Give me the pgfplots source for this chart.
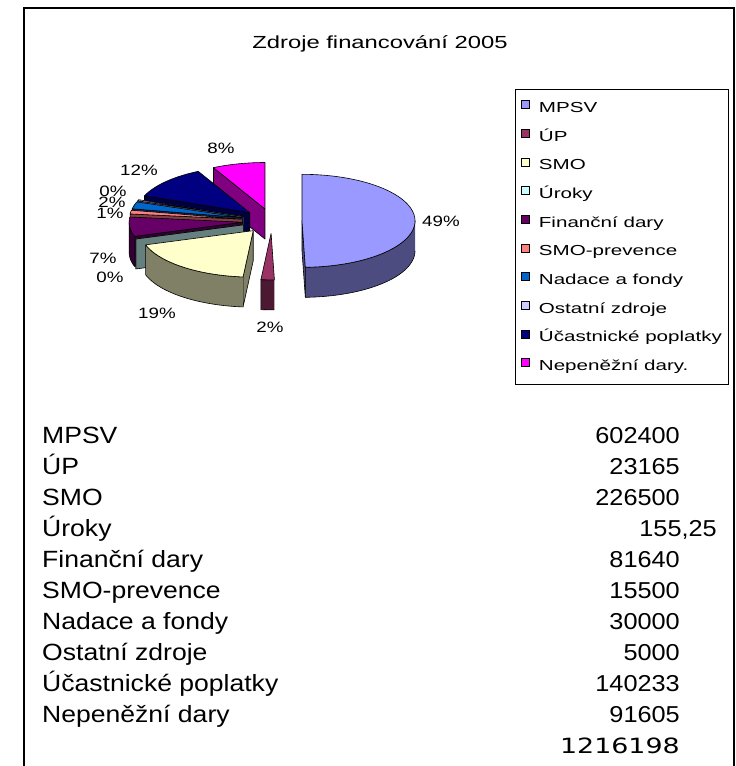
\documentclass[border=0pt]{standalone}
\usepackage{fontspec}
\setmainfont{Liberation Sans}
\newfontfamily\dejavu{DejaVu Sans}
\usepackage{graphicx}
\usepackage{pgfplots}
\usepackage{pgfplotstable}
\pgfplotsset{compat=1.18}

\definecolor{cMPSV}{HTML}{9999FF}
\definecolor{cUP}{HTML}{993366}
\definecolor{cSMO}{HTML}{FFFFCC}
\definecolor{cUroky}{HTML}{CCFFFF}
\definecolor{cFD}{HTML}{660066}
\definecolor{cSMOp}{HTML}{FF8080}
\definecolor{cNaF}{HTML}{0066CC}
\definecolor{cOZ}{HTML}{CCCCFF}
\definecolor{cUcP}{HTML}{000080}
\definecolor{cND}{HTML}{FF00FF}

\pgfplotstableread[col sep=comma]{
name,value
MPSV,602400
ÚP,23165
SMO,226500
Úroky,155.25
Finanční dary,81640
SMO-prevence,15500
Nadace a fondy,30000
Ostatní zdroje,5000
Účastnické poplatky,140233
Nepeněžní dary,91605
}\srcdata

% geometry of the 3D pie (picture pixels, y downward)
\def\CX{272}\def\CY{221}\def\RX{113}\def\RY{46.5}\def\DEP{30}\def\EXPL{30}

\xdef\total{0}%
\foreach \ii in {0,...,9}{%
  \pgfplotstablegetelem{\ii}{value}\of\srcdata
  \xdef\total{\fpeval{\total+\pgfplotsretval}}%
}%
\xdef\cum{0}%
\foreach \ii in {0,...,9}{%
  \pgfplotstablegetelem{\ii}{value}\of\srcdata
  \expandafter\xdef\csname sa\ii\endcsname{\cum}%
  \xdef\cum{\fpeval{round(\cum+360*\pgfplotsretval/\total,4)}}%
  \expandafter\xdef\csname sb\ii\endcsname{\cum}%
}%

\newcommand\arcpts[6]{% cx cy a0 a1 yoff nsteps -> append to \pts
  \foreach \kk in {0,...,#6}{%
    \xdef\pts{\pts (\fpeval{round(#1+\RX*sind(#3+(#4-#3)*\kk/#6),3)},\fpeval{round(#2-\RY*cosd(#3+(#4-#3)*\kk/#6)+#5,3)})}%
  }%
}
\newcommand\face[1]{%
  \edef\cmd{\noexpand\addplot[fill=#1,draw=black,line width=0.6pt,line join=round,forget plot] coordinates {\pts};}\cmd}
\newcommand\radial[1]{% angle
  \edef\px{\fpeval{round(\cx+\RX*sind(#1),3)}}%
  \edef\py{\fpeval{round(\cy-\RY*cosd(#1),3)}}%
  \edef\pyd{\fpeval{\py+\DEP}}%
  \xdef\pts{(\cx,\cy) (\px,\py) (\px,\pyd) (\cx,\cyd) (\cx,\cy)}%
}
\newcommand\drawslice[2]{% index, colour
  \edef\aA{\csname sa#1\endcsname}%
  \edef\aB{\csname sb#1\endcsname}%
  \edef\am{\fpeval{(\aA+\aB)/2}}%
  \edef\cx{\fpeval{round(\CX+\EXPL*sind(\am),3)}}%
  \edef\cy{\fpeval{round(\CY-\EXPL*\RY/\RX*cosd(\am),3)}}%
  \edef\cyd{\fpeval{\cy+\DEP}}%
  \ifdim\fpeval{sind(\aA)}pt<-0.0001pt
    \radial{\aA}\face{#2!50!black}%
  \fi
  \ifdim\fpeval{sind(\aB)}pt>0.0001pt
    \radial{\aB}\face{#2!50!black}%
  \fi
  \edef\bA{\fpeval{max(\aA,90)}}%
  \edef\bB{\fpeval{min(\aB,270)}}%
  \ifdim\bA pt<\bB pt
    \edef\ns{\fpeval{max(1,ceil((\bB-\bA)/2))}}%
    \xdef\pts{}%
    \arcpts{\cx}{\cy}{\bA}{\bB}{0}{\ns}%
    \arcpts{\cx}{\cy}{\bB}{\bA}{\DEP}{\ns}%
    \face{#2!50!black}%
  \fi
  \edef\ns{\fpeval{max(1,ceil((\aB-\aA)/2))}}%
  \xdef\pts{(\cx,\cy)}%
  \arcpts{\cx}{\cy}{\aA}{\aB}{0}{\ns}%
  \xdef\pts{\pts (\cx,\cy)}%
  \face{#2}%
}

\newcommand\lab[1]{\fontsize{15}{17}\selectfont\scalebox{1.25}[1]{#1}}
\newcommand\leg[1]{\scalebox{1.42}[1]{#1}}
\newcommand\tb[1]{\fontsize{23.5}{26}\selectfont\scalebox{1.13}[1]{#1}}
\newcommand\tn[1]{\fontsize{23}{26}\selectfont\scalebox{1.1}[1]{#1}}
\newcommand\trow[3]{% y-baseline, name, value
  \node[anchor=base west, inner sep=0pt] at (axis cs:42,#1) {\tb{#2}};
  \node[anchor=base east, inner sep=0pt] at (axis cs:680,#1) {\tn{#3}};}

\begin{document}
\begin{tikzpicture}
\begin{axis}[
  width=736pt, height=766pt, scale only axis,
  xmin=0, xmax=736, ymin=0, ymax=766, y dir=reverse,
  hide axis, clip=false,
  legend cell align=left,
  legend style={at={(axis cs:515,89)}, anchor=north west,
    draw=black, line width=0.8pt, fill=white,
    inner xsep=6pt, inner ysep=11pt, row sep=13.4pt, column sep=9pt,
    font=\fontsize{14.5}{16}\selectfont,
    nodes={inner sep=0pt, text height=10pt, text depth=3pt}},
  legend image code/.code={\draw[#1,draw=black,line width=0.5pt] (0pt,0.5pt) rectangle (8pt,8.5pt);},
]
% slices, back to front
\drawslice{9}{cND}
\drawslice{8}{cUcP}
\drawslice{7}{cOZ}
\drawslice{6}{cNaF}
\drawslice{5}{cSMOp}
\drawslice{0}{cMPSV}
\drawslice{4}{cFD}
\drawslice{3}{cUroky}
\drawslice{2}{cSMO}
\drawslice{1}{cUP}

\addlegendimage{fill=cMPSV}\addlegendentry{\leg{MPSV}}
\addlegendimage{fill=cUP}\addlegendentry{\leg{ÚP}}
\addlegendimage{fill=cSMO}\addlegendentry{\leg{SMO}}
\addlegendimage{fill=cUroky}\addlegendentry{\leg{Úroky}}
\addlegendimage{fill=cFD}\addlegendentry{\leg{Finanční dary}}
\addlegendimage{fill=cSMOp}\addlegendentry{\leg{SMO-prevence}}
\addlegendimage{fill=cNaF}\addlegendentry{\leg{Nadace a fondy}}
\addlegendimage{fill=cOZ}\addlegendentry{\leg{Ostatní zdroje}}
\addlegendimage{fill=cUcP}\addlegendentry{\leg{Účastnické poplatky}}
\addlegendimage{fill=cND}\addlegendentry{\leg{Nepeněžní dary.}}

% frame
\draw[line width=1.3pt] (axis cs:24,766) -- (axis cs:24,8) -- (axis cs:734,8) -- (axis cs:734,766);

% title
\node[anchor=base] at (axis cs:380,48) {\fontsize{17.5}{20}\selectfont\scalebox{1.36}[1]{Zdroje financování 2005}};

% data labels
\node at (axis cs:441,221) {\lab{49\%}};
\node at (axis cs:270,327) {\lab{2\%}};
\node at (axis cs:157,313) {\lab{19\%}};
\node at (axis cs:110,277) {\lab{0\%}};
\node at (axis cs:103,258) {\lab{7\%}};
\node at (axis cs:110,213) {\lab{1\%}};
\node at (axis cs:112,202) {\lab{2\%}};
\node at (axis cs:113,191) {\lab{0\%}};
\node at (axis cs:139,170) {\lab{12\%}};
\node at (axis cs:221,148) {\lab{8\%}};

% table below
\trow{443}{MPSV}{602400}
\trow{474}{ÚP}{23165}
\trow{505}{SMO}{226500}
\trow{536}{Úroky}{}
\trow{567}{Finanční dary}{81640}
\trow{598}{SMO-prevence}{15500}
\trow{629}{Nadace a fondy}{30000}
\trow{660}{Ostatní zdroje}{5000}
\trow{691}{Účastnické poplatky}{140233}
\trow{722}{Nepeněžní dary}{91605}
\node[anchor=base east, inner sep=0pt] at (axis cs:717,536) {\tn{155,25}};
\node[anchor=base east, inner sep=0pt] at (axis cs:680,753) {\dejavu\fontsize{21}{24}\selectfont\scalebox{1.28}[1]{1216198}};
\end{axis}
\pgfresetboundingbox
\path (0,0) rectangle (736pt,766pt);
\end{tikzpicture}
\end{document}
